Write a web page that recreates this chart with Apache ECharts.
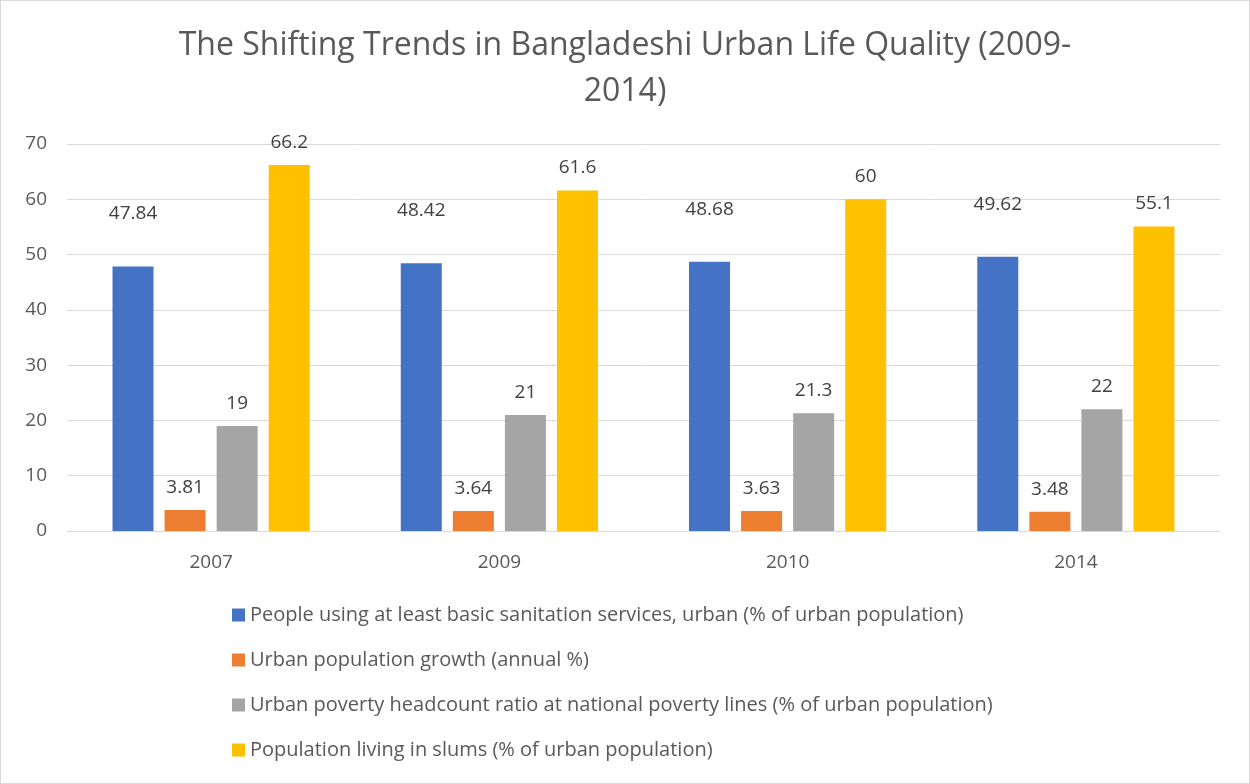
<!DOCTYPE html>
<html>
<head>
<meta charset="utf-8">
<script src="https://cdn.jsdelivr.net/npm/echarts@6/dist/echarts.min.js"></script>
<style>
html,body{margin:0;padding:0;background:#fff;}
#c{position:absolute;left:0;top:0;width:1248px;height:782px;border:1px solid #d9d9d9;}
</style>
</head>
<body>
<div id="c"></div>
<script>
const categories = ['2007', '2009', '2010', '2014'];
const seriesNames = [
  'People using at least basic sanitation services, urban (% of urban population)',
  'Urban population growth (annual %)',
  'Urban poverty headcount ratio at national poverty lines (% of urban population)',
  'Population living in slums (% of urban population)'
];
const sanitation = [47.84, 48.42, 48.68, 49.62];
const popGrowth = [3.81, 3.64, 3.63, 3.48];
const poverty = [19, 21, 21.3, 22];
const slums = [66.2, 61.6, 60, 55.1];
const yTicks = [0, 10, 20, 30, 40, 50, 60, 70];

const colors = ['#4472c4', '#ed7d31', '#a5a5a5', '#ffc000'];
const FONT = '"Open Sans", sans-serif';
const values = [sanitation, popGrowth, poverty, slums];
const labelDist = [43, 13, 13, 13];

const chart = echarts.init(document.getElementById('c'), null, {renderer: 'canvas'});
chart.setOption({
  animation: false,
  title: {
    text: 'The Shifting Trends in Bangladeshi Urban Life Quality (2009-\n2014)',
    left: 'center',
    top: 17,
    textStyle: {fontFamily: FONT, fontSize: 32, fontWeight: 'normal', color: '#595959', lineHeight: 46}
  },
  legend: {
    orient: 'vertical',
    left: 226,
    top: 599,
    itemWidth: 13,
    itemHeight: 13,
    itemGap: 25,
    icon: 'rect',
    data: seriesNames,
    textStyle: {fontFamily: FONT, fontSize: 20, color: '#595959'}
  },
  grid: {left: 66, right: 29, top: 143, bottom: 252, containLabel: false},
  xAxis: {
    type: 'category',
    data: categories,
    axisLine: {lineStyle: {color: '#d9d9d9', width: 1}},
    axisTick: {show: false},
    axisLabel: {fontFamily: FONT, fontSize: 19, color: '#595959', margin: 22}
  },
  yAxis: {
    type: 'value',
    min: yTicks[0],
    max: yTicks[yTicks.length - 1],
    interval: 10,
    axisLine: {show: false},
    axisTick: {show: false},
    splitLine: {lineStyle: {color: '#d9d9d9', width: 1}},
    axisLabel: {fontFamily: FONT, fontSize: 19, color: '#595959', margin: 20}
  },
  series: seriesNames.map((name, i) => ({
    name: name,
    type: 'bar',
    data: values[i],
    barWidth: 41,
    barGap: '27%',
    itemStyle: {color: colors[i]},
    label: {
      show: true,
      position: 'top',
      distance: labelDist[i],
      fontFamily: FONT,
      fontSize: 19,
      color: '#404040'
    }
  }))
});
</script>
</body>
</html>
